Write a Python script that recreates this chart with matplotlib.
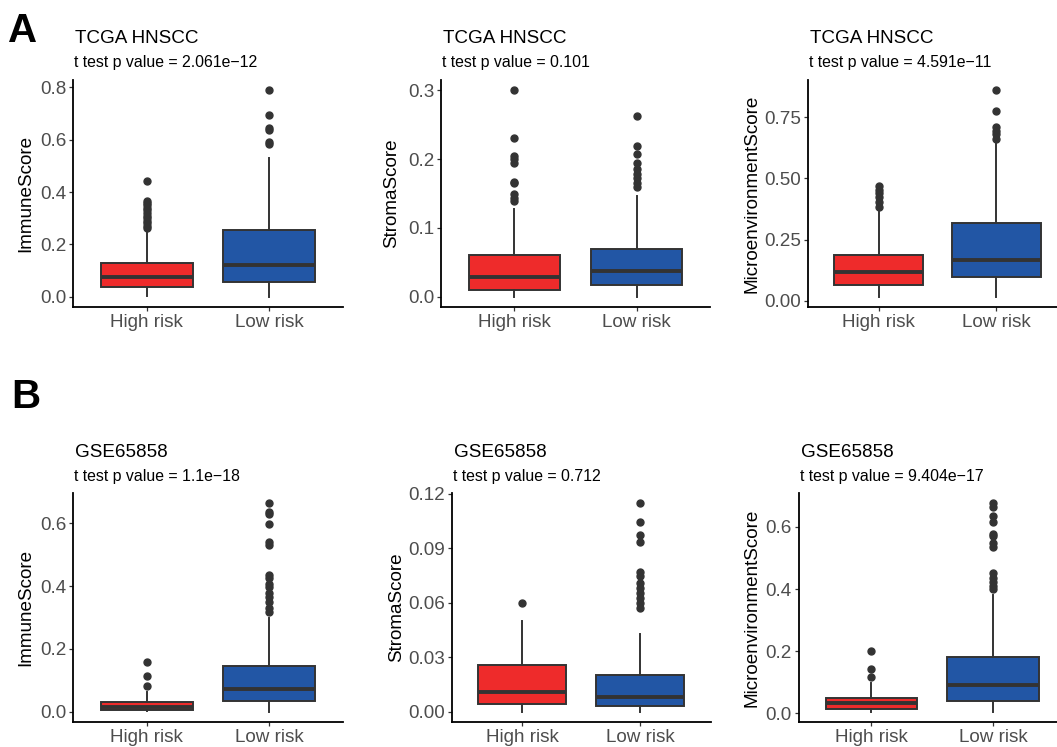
import matplotlib
matplotlib.use("Agg")
import matplotlib.pyplot as plt

plt.rcParams['font.family'] = ['Liberation Sans', 'DejaVu Sans']

W, H = 1057, 747
groups = ["High risk", "Low risk"]
fill_colors = ["#EE2B2B", "#2256A5"]

# ---- data (box statistics) ----
# each: [whislo, q1, median, q3, whishi]
tcga_immune_high = [0.003, 0.036, 0.076, 0.127, 0.255]
tcga_immune_high_out = [0.263, 0.272, 0.281, 0.290, 0.300, 0.310, 0.320, 0.330, 0.340, 0.350, 0.358, 0.365, 0.441]
tcga_immune_low = [0.0, 0.057, 0.123, 0.254, 0.531]
tcga_immune_low_out = [0.582, 0.591, 0.638, 0.644, 0.695, 0.789]

tcga_stroma_high = [0.0, 0.009, 0.029, 0.061, 0.128]
tcga_stroma_high_out = [0.139, 0.143, 0.150, 0.165, 0.167, 0.194, 0.200, 0.205, 0.230, 0.300]
tcga_stroma_low = [0.0, 0.017, 0.038, 0.069, 0.146]
tcga_stroma_low_out = [0.160, 0.165, 0.172, 0.179, 0.186, 0.194, 0.208, 0.219, 0.263]

tcga_micro_high = [0.016, 0.064, 0.116, 0.187, 0.362]
tcga_micro_high_out = [0.385, 0.402, 0.423, 0.439, 0.453, 0.471]
tcga_micro_low = [0.016, 0.095, 0.166, 0.318, 0.641]
tcga_micro_low_out = [0.662, 0.682, 0.696, 0.709, 0.778, 0.861]

gse_immune_high = [0.003, 0.006, 0.016, 0.032, 0.062]
gse_immune_high_out = [0.082, 0.113, 0.157]
gse_immune_low = [0.0, 0.033, 0.073, 0.144, 0.297]
gse_immune_low_out = [0.317, 0.329, 0.348, 0.365, 0.378, 0.397, 0.407, 0.426, 0.436,
                      0.530, 0.541, 0.599, 0.631, 0.636, 0.664]

gse_stroma_high = [0.0, 0.0042, 0.011, 0.0255, 0.050]
gse_stroma_high_out = [0.060]
gse_stroma_low = [0.0, 0.003, 0.0083, 0.0203, 0.0426]
gse_stroma_low_out = [0.0572, 0.0596, 0.0624, 0.0652, 0.068, 0.0707, 0.0744, 0.0766,
                      0.0932, 0.0973, 0.1043, 0.1146]

gse_micro_high = [0.005, 0.013, 0.034, 0.049, 0.096]
gse_micro_high_out = [0.118, 0.143, 0.200]
gse_micro_low = [0.005, 0.040, 0.091, 0.181, 0.381]
gse_micro_low_out = [0.399, 0.410, 0.424, 0.437, 0.451, 0.534, 0.550, 0.570, 0.577,
                     0.615, 0.637, 0.664, 0.676]

titles_top = "TCGA HNSCC"
titles_bottom = "GSE65858"
pvals = ["2.061e\u221212", "0.101", "4.591e\u221211", "1.1e\u221218", "0.712", "9.404e\u221217"]
ylabels = ["ImmuneScore", "StromaScore", "MicroenvironmentScore"] * 2
yticks = [[0.0, 0.2, 0.4, 0.6, 0.8], [0.0, 0.1, 0.2, 0.3], [0.0, 0.25, 0.5, 0.75],
          [0.0, 0.2, 0.4, 0.6], [0.0, 0.03, 0.06, 0.09, 0.12], [0.0, 0.2, 0.4, 0.6]]
ytick_fmt = ["{:.1f}", "{:.1f}", "{:.2f}", "{:.1f}", "{:.2f}", "{:.1f}"]

panels = [
    (tcga_immune_high, tcga_immune_high_out, tcga_immune_low, tcga_immune_low_out),
    (tcga_stroma_high, tcga_stroma_high_out, tcga_stroma_low, tcga_stroma_low_out),
    (tcga_micro_high, tcga_micro_high_out, tcga_micro_low, tcga_micro_low_out),
    (gse_immune_high, gse_immune_high_out, gse_immune_low, gse_immune_low_out),
    (gse_stroma_high, gse_stroma_high_out, gse_stroma_low, gse_stroma_low_out),
    (gse_micro_high, gse_micro_high_out, gse_micro_low, gse_micro_low_out),
]

# ---- layout in pixels: (left, right, top, bottom) ----
boxes_px = [(73, 343, 80, 307), (441, 710, 80, 307), (808, 1067, 80, 307),
            (73, 343, 493, 722), (451.7, 710.6, 493, 722), (798.5, 1066, 493, 722)]
ylabel_x = [26, 391.7, 751.7, 26, 396.7, 751.7]

fig = plt.figure(figsize=(W / 100, H / 100), dpi=100)

for i, (hs, ho, ls, lo) in enumerate(panels):
    l, r, t, b = boxes_px[i]
    ax = fig.add_axes([l / W, 1 - b / H, (r - l) / W, (b - t) / H])
    stats = []
    for s, o, name in [(hs, ho, groups[0]), (ls, lo, groups[1])]:
        stats.append(dict(whislo=s[0], q1=s[1], med=s[2], q3=s[3], whishi=s[4],
                          fliers=o, label=name))
    bp = ax.bxp(stats, positions=[1, 2], widths=0.75, showcaps=False, patch_artist=True,
                boxprops=dict(edgecolor="#333333", linewidth=1.4),
                whiskerprops=dict(color="#333333", linewidth=1.4),
                medianprops=dict(color="#333333", linewidth=2.8, solid_capstyle="butt"),
                flierprops=dict(marker="o", markerfacecolor="#333333",
                                markeredgecolor="#333333", markersize=5))
    for patch, c in zip(bp["boxes"], fill_colors):
        patch.set_facecolor(c)
        patch.set_zorder(2)
    allv = [hs[0], ls[0]] + list(ho) + list(lo) + [hs[4], ls[4]]
    lo_v, hi_v = min(allv), max(allv)
    rng = hi_v - lo_v
    ax.set_ylim(lo_v - 0.05 * rng, hi_v + 0.05 * rng)
    ax.set_xlim(0.4, 2.6)
    ax.set_yticks(yticks[i])
    ax.set_yticklabels([ytick_fmt[i].format(v) for v in yticks[i]])
    ax.set_xticks([1, 2])
    ax.set_xticklabels(groups)
    for sp in ["top", "right"]:
        ax.spines[sp].set_visible(False)
    for sp in ["left", "bottom"]:
        ax.spines[sp].set_color("black")
        ax.spines[sp].set_linewidth(1.3)
    ax.tick_params(axis="both", colors="#333333", labelcolor="#4D4D4D",
                   labelsize=13.6, length=2.8, width=0.9, pad=2)
    ax.set_ylabel(ylabels[i], fontsize=13.6, color="black")
    ax.yaxis.set_label_coords((ylabel_x[i] - l) / (r - l), 0.5)
    ax.yaxis.label.set_va("center")
    # titles
    if i < 3:
        tb, sb, title = 42.7, 66.7, titles_top
    else:
        tb, sb, title = 457.3, 481.5, titles_bottom
    fig.text((l + 2) / W, 1 - tb / H, title, fontsize=13.6, va="baseline", ha="left")
    fig.text((l + 1) / W, 1 - sb / H, "t test p value = " + pvals[i], fontsize=11.4,
             va="baseline", ha="left")

fig.text(8 / W, 1 - 41.7 / H, "A", fontsize=29, fontweight="bold", va="baseline", ha="left")
fig.text(11 / W, 1 - 408 / H, "B", fontsize=29, fontweight="bold", va="baseline", ha="left")

fig.savefig("out.png", dpi=100)
